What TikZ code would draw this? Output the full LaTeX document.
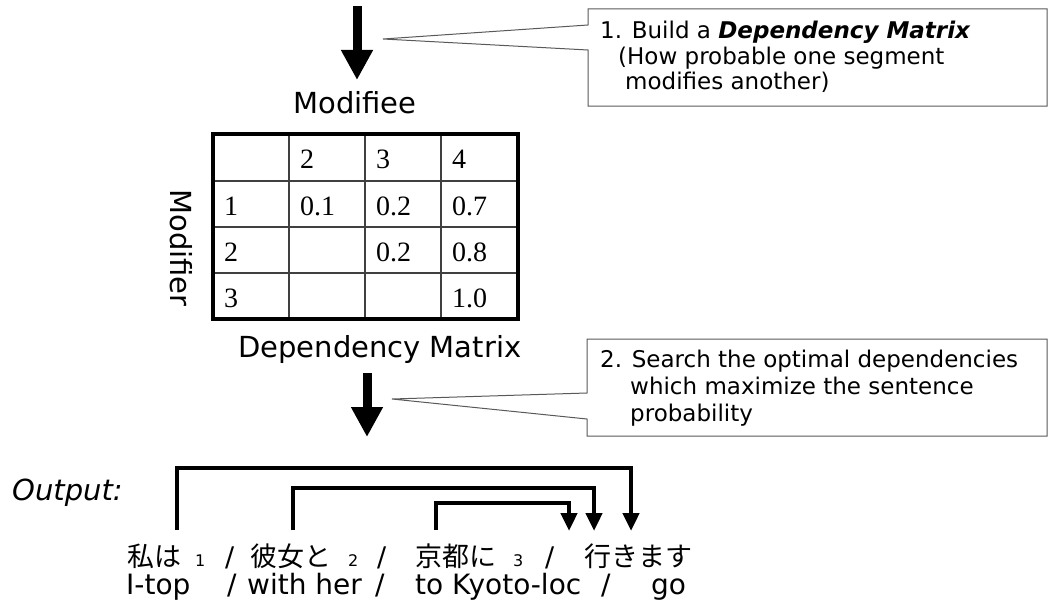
\documentclass[tikz,border=0pt]{standalone}
\usepackage{fontspec}
\setmainfont{DejaVu Sans}
\newfontfamily\tabfont{Liberation Serif}
\newfontfamily\jpfont{Noto Sans CJK JP}
\usetikzlibrary{arrows.meta}

\tikzset{
  bigarrow/.style={line width=9pt, -{Triangle[width=30pt,length=30pt]}},
  deparrow/.style={line width=4.5pt, -{Triangle[width=16pt,length=18pt]}},
  callout/.style={draw=black!65, line width=1pt, fill=white},
  notetext/.style={anchor=base west, inner sep=0pt, font=\fontsize{23}{24}\selectfont},
  label/.style={inner sep=0pt, font=\fontsize{29}{32}\selectfont},
  cell/.style={anchor=base west, inner sep=0pt, font=\tabfont\fontsize{28}{30}\selectfont},
  frame/.style={line width=4pt},
  grid/.style={line width=1.5pt, draw=black!75},
  jp/.style={anchor=base west, inner sep=0pt, font=\jpfont\fontsize{27}{29}\selectfont},
  slash/.style={anchor=base west, inner sep=0pt, font=\fontsize{27}{29}\selectfont},
  idx/.style={anchor=base west, inner sep=0pt, font=\fontsize{16}{17}\selectfont},
  gloss/.style={anchor=base west, inner sep=0pt, font=\fontsize{28}{30}\selectfont},
}

\begin{document}
\begin{tikzpicture}[x=1pt,y=-1pt]
\useasboundingbox (0,0) rectangle (1049,610);

% ---- step 1: building the matrix ----
\coordinate (in) at (357,6);
\coordinate (inend) at (357,80);
\draw[bigarrow] (in) -- (inend);

\draw[callout] (588,9) -- (1047,9) -- (1047,106) -- (588,106) -- (588,50)
  -- (383,39) -- (588,25) -- cycle;
\node[notetext] (n1a) at (600,39) {1. Build a \textbf{\textit{Dependency Matrix}}};
\node[notetext] (n1b) at (618,64) {(How probable one segment};
\node[notetext] (n1c) at (625,89) {modifies another)};

\node[label, anchor=base] (modifiee) at (355,113) {Modifiee};
\node[label, rotate=-90] (modifier) at (181,248) {Modifier};

% ---- the dependency matrix ----
\foreach \x in {289,365,441} \draw[grid] (\x,134) -- (\x,319);
\foreach \y in {181,227,273} \draw[grid] (213,\y) -- (518,\y);
\draw[frame] (213,134) rectangle (518,319);

\node[cell] (h2) at (300,168) {2};
\node[cell] (h3) at (376,168) {3};
\node[cell] (h4) at (452,168) {4};
\node[cell] (r1) at (224,215) {1};
\node[cell] (v12) at (300,215) {0.1};
\node[cell] (v13) at (376,215) {0.2};
\node[cell] (v14) at (452,215) {0.7};
\node[cell] (r2) at (224,261) {2};
\node[cell] (v23) at (376,261) {0.2};
\node[cell] (v24) at (452,261) {0.8};
\node[cell] (r3) at (224,307) {3};
\node[cell] (v34) at (452,307) {1.0};

\node[label, anchor=base west] (dm) at (238,357) {Dependency Matrix};

% ---- step 2: searching the dependencies ----
\coordinate (mid) at (367,373);
\coordinate (midend) at (367,437);
\draw[bigarrow] (mid) -- (midend);

\draw[callout] (587,339) -- (1047,339) -- (1047,436) -- (587,436) -- (587,419)
  -- (392,399) -- (587,393) -- cycle;
\node[notetext] (n2a) at (600,367) {2. Search the optimal dependencies};
\node[notetext] (n2b) at (630,394) {which maximize the sentence};
\node[notetext] (n2c) at (630,421) {probability};

% ---- output ----
\node[label, anchor=base west, font=\itshape\fontsize{29}{32}\selectfont] (out) at (12,500) {Output:};

\node[jp] (j1) at (127,566) {私は};
\node[idx] (i1) at (195,566) {1};
\node[slash] (s1) at (225,566) {/};
\node[jp] (j2) at (250,566) {彼女と};
\node[idx] (i2) at (348,566) {2};
\node[slash] (s2) at (377,566) {/};
\node[jp] (j3) at (415,566) {京都に};
\node[idx] (i3) at (513,566) {3};
\node[slash] (s3) at (545,566) {/};
\node[jp] (j4) at (584,566) {行きます};

\node[gloss] (g1) at (126,594) {I-top};
\node[gloss] (gs1) at (227,594) {/};
\node[gloss] (g2) at (247,594) {with her};
\node[gloss] (gs2) at (375,594) {/};
\node[gloss] (g3) at (415,594) {to Kyoto-loc};
\node[gloss] (gs3) at (601,594) {/};
\node[gloss] (g4) at (651,594) {go};

% dependency links between segments
\coordinate (d1s) at (177,530);
\coordinate (d2s) at (293,530);
\coordinate (d3s) at (436,530);
\coordinate (d1e) at (631,531);
\coordinate (d2e) at (594,531);
\coordinate (d3e) at (569,531);
\draw[deparrow] (d1s) |- (400,468) -| (d1e);
\draw[deparrow] (d2s) |- (400,488) -| (d2e);
\draw[deparrow] (d3s) |- (500,503) -| (d3e);
\end{tikzpicture}
\end{document}
